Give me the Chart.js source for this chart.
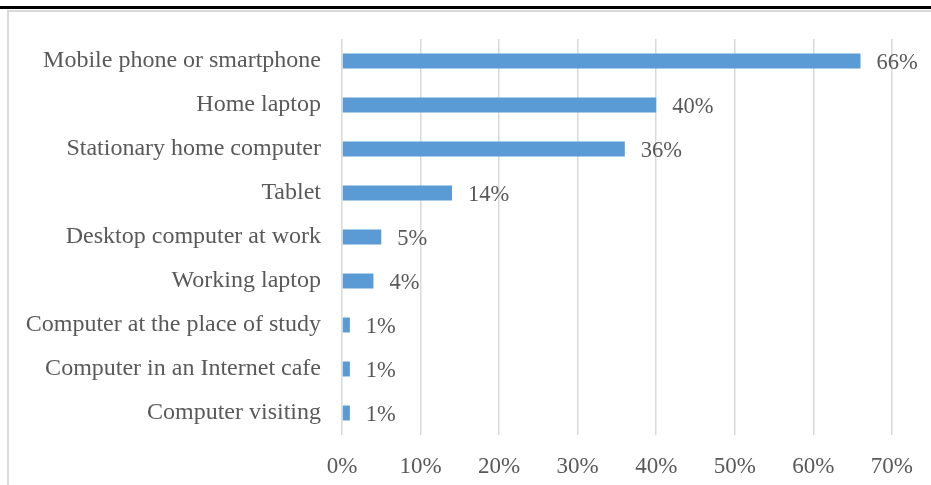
<!DOCTYPE html>
<html>
<head>
<meta charset="utf-8">
<script src="https://cdn.jsdelivr.net/npm/chart.js@4"></script>
<style>
  html, body { margin: 0; padding: 0; background: #fff; }
  #wrap { position: relative; width: 931px; height: 485px; overflow: hidden; }
  #topRule { position: absolute; left: 0; top: 6px; width: 931px; height: 3px; background: #000; }
  #frame { position: absolute; left: 7px; top: 10px; width: 940px; height: 500px; border: 2px solid #d9d9d9; box-sizing: border-box; }
  #myChart { position: absolute; left: 0; top: 0; }
</style>
</head>
<body>
<div id="wrap">
  <div id="topRule"></div>
  <div id="frame"></div>
  <canvas id="myChart" width="931" height="485"></canvas>
</div>
<script>
let devices = ['Mobile phone or smartphone', 'Home laptop', 'Stationary home computer', 'Tablet',
  'Desktop computer at work', 'Working laptop', 'Computer at the place of study',
  'Computer in an Internet cafe', 'Computer visiting'];
let shares = [66, 40, 36, 14, 5, 4, 1, 1, 1];
let xTicks = [0, 10, 20, 30, 40, 50, 60, 70];

const fontFamily = '"Liberation Serif", "Times New Roman", serif';
const textColor = '#595959';

// value labels right of each bar
const barLabels = {
  id: 'barLabels',
  afterDatasetsDraw(chart) {
    const ctx = chart.ctx;
    const meta = chart.getDatasetMeta(0);
    ctx.save();
    ctx.font = '22.5px ' + fontFamily;
    ctx.fillStyle = textColor;
    ctx.textAlign = 'left';
    ctx.textBaseline = 'middle';
    meta.data.forEach((bar, j) => {
      ctx.fillText(shares[j] + '%', bar.x + 16, bar.y + 2);
    });
    ctx.restore();
  }
};

const ctx = document.getElementById('myChart');
Chart.defaults.color = textColor;
Chart.defaults.font.family = fontFamily;

let chart = new Chart(ctx, {
  type: 'bar',
  data: {
    labels: devices,
    datasets: [{
      data: shares,
      backgroundColor: '#5B9BD5',
      borderWidth: 0,
      barPercentage: 0.68,
      categoryPercentage: 0.5
    }]
  },
  options: {
    indexAxis: 'y',
    responsive: false,
    animation: false,
    layout: { padding: { top: 39, right: 38, bottom: 0, left: 0 } },
    plugins: {
      legend: { display: false },
      tooltip: { enabled: false }
    },
    scales: {
      x: {
        min: 0,
        max: 70,
        afterBuildTicks(axis) { axis.ticks = xTicks.map(v => ({ value: v })); },
        afterFit(axis) { axis.height = 50; },
        border: { display: false },
        grid: { color: '#d9d9d9', lineWidth: 1.5, drawTicks: false },
        ticks: {
          padding: 18,
          font: { size: 23 },
          color: textColor,
          callback: v => v + '%'
        }
      },
      y: {
        afterFit(axis) { axis.width = 342; },
        border: { display: false },
        grid: { display: false, drawTicks: false },
        ticks: {
          padding: 21,
          font: { size: 24 },
          color: textColor
        }
      }
    }
  },
  plugins: [barLabels]
});
</script>
</body>
</html>
